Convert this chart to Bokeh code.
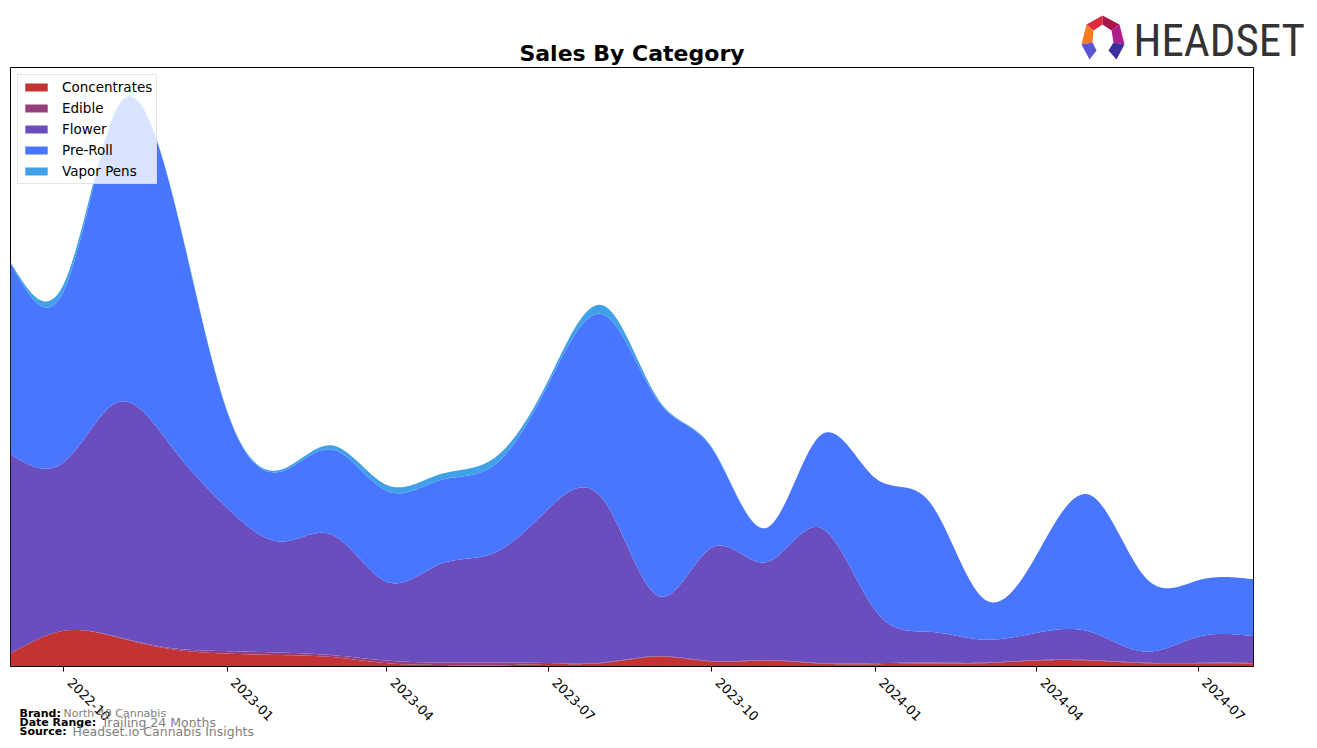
import math
from datetime import datetime
import numpy as np
from bokeh.plotting import figure
from bokeh.layouts import column
from bokeh.models import (Range1d, FixedTicker, DatetimeTickFormatter, Legend, LegendItem,
                          Label, ColumnDataSource)
from bokeh.embed import file_html
from bokeh.resources import INLINE

# ---------------- data ----------------
months = ["2022-09", "2022-10", "2022-11", "2022-12", "2023-01", "2023-02", "2023-03", "2023-04",
          "2023-05", "2023-06", "2023-07", "2023-08", "2023-09", "2023-10", "2023-11", "2023-12",
          "2024-01", "2024-02", "2024-03", "2024-04", "2024-05", "2024-06", "2024-07", "2024-08"]
categories = ["Concentrates", "Edible", "Flower", "Pre-Roll", "Vapor Pens"]
concentrates = [13, 36, 29, 17.4, 13, 11.5, 9.5, 3.3, 1.5, 1, 2.5, 3.5,
                10, 5, 6, 3, 2.3, 3, 3.3, 6, 6, 3.3, 2.7, 3]
edible = [0, 0, 0.5, 1.1, 2.5, 2.5, 2, 2.7, 2.5, 3, 1, 0.5,
          0.5, 0.5, 0.5, 0.5, 1, 1, 0.5, 0.5, 0.5, 0.5, 1, 1.5]
flower = [201, 170, 237.5, 202.5, 144.5, 112, 121.5, 79.3, 99.3, 111, 155.8, 164,
          60.5, 114.5, 98.9, 136.5, 53.2, 31, 23.4, 27.5, 28.5, 11.2, 26.3, 26]
preroll = [193, 173, 298, 256, 97, 71, 86, 91.7, 84.7, 89, 126, 187,
           196, 100, 34.6, 93, 133.5, 130, 42.8, 79, 138, 75, 57, 57.5]
vapor_pens = [1, 7, 2, 1, 1, 2, 4, 6, 6, 7, 4, 9,
              2, 1, 0, 0, 0, 0, 0, 0, 0, 0, 0, 0]
tick_labels = ["2022-10", "2023-01", "2023-04", "2023-07", "2023-10", "2024-01", "2024-04", "2024-07"]
colors = ["#C43333", "#963E7B", "#6A4EBE", "#4876FF", "#40A0E8"]

series = [concentrates, edible, flower, preroll, vapor_pens]

# ---------------- helpers ----------------
EPOCH = datetime(1970, 1, 1)


def to_ms(s):
    return (datetime.strptime(s + "-01", "%Y-%m-%d") - EPOCH).total_seconds() * 1000.0


def smooth(xs, ys, xq):
    """natural cubic spline, used only to draw the monthly values as smooth curves"""
    xs = np.asarray(xs, float)
    ys = np.asarray(ys, float)
    n = len(xs)
    h = np.diff(xs)
    A = np.zeros((n, n))
    b = np.zeros(n)
    A[0, 0] = 1.0
    A[-1, -1] = 1.0
    for i in range(1, n - 1):
        A[i, i - 1] = h[i - 1]
        A[i, i] = 2 * (h[i - 1] + h[i])
        A[i, i + 1] = h[i]
        b[i] = 6 * ((ys[i + 1] - ys[i]) / h[i] - (ys[i] - ys[i - 1]) / h[i - 1])
    M = np.linalg.solve(A, b)
    idx = np.clip(np.searchsorted(xs, xq, side="right") - 1, 0, n - 2)
    x0, x1 = xs[idx], xs[idx + 1]
    hh = x1 - x0
    return (M[idx] * (x1 - xq) ** 3 / (6 * hh) + M[idx + 1] * (xq - x0) ** 3 / (6 * hh)
            + (ys[idx] / hh - M[idx] * hh / 6) * (x1 - xq)
            + (ys[idx + 1] / hh - M[idx + 1] * hh / 6) * (xq - x0))


x_ms = np.array([to_ms(m) for m in months])
x_days = (x_ms - x_ms[0]) / 86400000.0
xq_days = np.linspace(x_days[0], x_days[-1], 700)
xq_ms = x_ms[0] + xq_days * 86400000.0

layers = [np.clip(smooth(x_days, s, xq_days), 0, None) for s in series]
cum = np.cumsum(np.vstack(layers), axis=0)
ymax = cum[-1].max() * 1.05

# ---------------- main chart ----------------
W, H = 1317, 748
FL, FR, FT, FB = 10, 1253, 67, 666   # frame edges on the canvas

p = figure(width=W, height=H, x_axis_type="datetime", y_axis_location=None,
           output_backend="svg", toolbar_location=None,
           x_range=Range1d(x_ms[0], x_ms[-1]), y_range=Range1d(0, ymax),
           min_border_left=FL, min_border_right=W - FR, min_border_top=FT,
           min_border_bottom=H - FB)
p.outline_line_color = "black"
p.outline_line_width = 1
p.outline_line_alpha = 1
p.xgrid.visible = False
p.ygrid.visible = False
p.background_fill_color = "white"
p.border_fill_color = "white"

renderers = []
prev = np.zeros_like(xq_ms)
for i, cat in enumerate(categories):
    src = ColumnDataSource(dict(x=xq_ms, y1=prev, y2=cum[i]))
    r = p.varea(x="x", y1="y1", y2="y2", source=src, fill_color=colors[i], fill_alpha=1)
    renderers.append(r)
    prev = cum[i]

ax = p.xaxis[0]
ax.ticker = FixedTicker(ticks=[to_ms(t) for t in tick_labels])
fmt = "\u00a0\u00a0%Y-%m"
ax.formatter = DatetimeTickFormatter(microseconds=fmt, milliseconds=fmt, seconds=fmt, minsec=fmt,
                                     minutes=fmt, hourmin=fmt, hours=fmt, days=fmt,
                                     months=fmt, years=fmt)
ax.axis_line_color = "black"
ax.major_tick_out = 5
ax.major_tick_in = 0
ax.minor_tick_out = 0
ax.minor_tick_in = 0
ax.major_tick_line_color = "black"
ax.major_label_orientation = -math.pi / 4
ax.major_label_text_font = "DejaVu Sans"
ax.major_label_text_font_size = "13px"
ax.major_label_text_color = "black"
ax.major_label_standoff = 3

legend = Legend(items=[LegendItem(label=c, renderers=[r]) for c, r in zip(categories, renderers)],
                location="top_left", margin=7, padding=4, spacing=5,
                label_height=16, glyph_height=10, glyph_width=28, label_standoff=12,
                label_text_font="DejaVu Sans", label_text_font_size="13.5px",
                label_text_color="black",
                border_line_color="#cccccc", border_line_width=1,
                background_fill_color="white", background_fill_alpha=0.8)
p.add_layout(legend)

# ---------------- overlay for the texts outside the plot frame ----------------
q = figure(width=W, height=H, x_axis_location=None, y_axis_location=None,
           output_backend="svg", toolbar_location=None,
           x_range=Range1d(0, W), y_range=Range1d(H, 0),
           min_border_left=0, min_border_right=0, min_border_top=0, min_border_bottom=0)
q.outline_line_color = None
q.xgrid.visible = False
q.ygrid.visible = False
q.background_fill_alpha = 0
q.border_fill_alpha = 0
q.styles = {"position": "absolute", "top": "0px", "left": "0px"}
try:
    p.frame_align = False
    q.frame_align = False
except Exception:
    pass

q.add_layout(Label(x=(FL + FR) / 2, y=53, text="Sales By Category", text_align="center",
                   text_baseline="alphabetic", text_font="DejaVu Sans", text_font_style="bold",
                   text_font_size="22px", text_color="black"))

footer = [("Brand:", "North 40 Cannabis", 713, 63, "11px"),
          ("Date Range:", "Trailing 24 Months", 722, 101, "12.5px"),
          ("Source:", "Headset.io Cannabis Insights", 731, 72, "12.5px")]
for key, val, base, vx, vsize in footer:
    q.add_layout(Label(x=19, y=base, text=key, text_font="DejaVu Sans", text_font_style="bold",
                       text_font_size="11px", text_color="black", text_baseline="alphabetic"))
    q.add_layout(Label(x=vx, y=base, text=val, text_font="DejaVu Sans", text_font_size=vsize,
                       text_color="#808080", text_baseline="alphabetic"))

q.add_layout(Label(x=1133, y=40, text="HEADSET",
                   text_font="Liberation Sans Narrow, Roboto Condensed, Roboto, sans-serif",
                   text_font_size="45px", text_color="#333333", text_baseline="alphabetic"))

logo_parts = [
    ([1086, 1102, 1102, 1093], [24, 15, 24, 30], "#E0283C"),
    ([1102, 1119, 1111, 1102], [15, 24, 30, 24], "#A8154A"),
    ([1086, 1093, 1092, 1081], [24, 30, 42, 44], "#F47B20"),
    ([1119, 1124, 1113, 1111], [24, 44, 42, 30], "#B01C8E"),
    ([1081, 1092, 1096, 1089], [44, 42, 50, 59], "#5B54D6"),
    ([1124, 1113, 1108, 1116], [44, 42, 50, 59], "#3D2F9E"),
]
q.patches(xs=[a for a, _, _ in logo_parts], ys=[b for _, b, _ in logo_parts],
          fill_color=[c for _, _, c in logo_parts], line_color=None)

root = column(p, q)
open("out.html", "w").write(file_html(root, INLINE))
